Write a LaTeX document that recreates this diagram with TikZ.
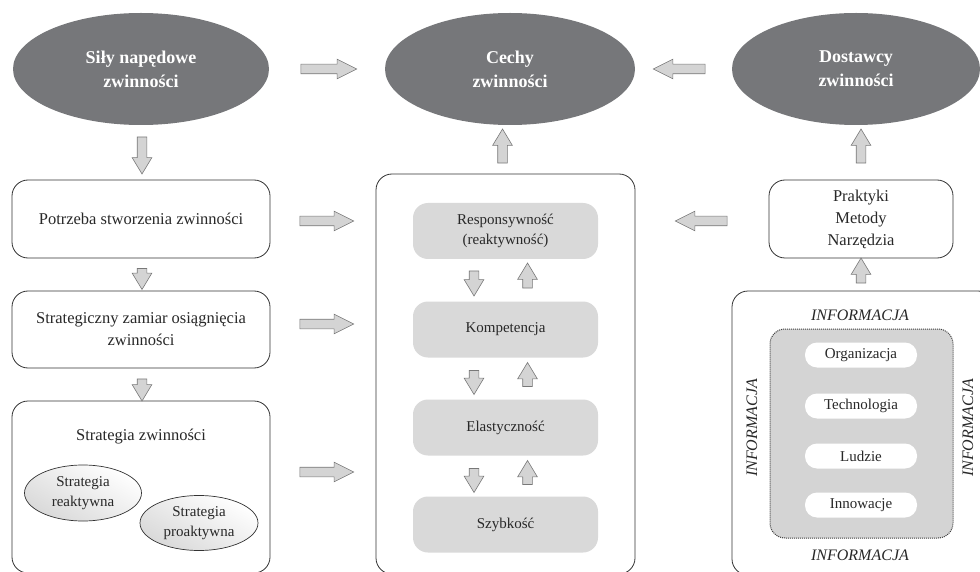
\documentclass[tikz,border=0pt]{standalone}
\usepackage{fontspec}
\setmainfont{Liberation Serif}
\usetikzlibrary{shapes.geometric,shapes.arrows}
\definecolor{ellgray}{RGB}{118,119,122}
\definecolor{arrfill}{RGB}{212,212,212}
\definecolor{arrline}{RGB}{120,120,120}
\definecolor{innerfill}{RGB}{217,217,217}
\definecolor{dotfill}{RGB}{212,212,212}
\definecolor{txt}{RGB}{40,40,40}
\begin{document}
\begin{tikzpicture}[x=1pt,y=-1pt,
  bigell/.style={ellipse, fill=ellgray, draw=none, minimum width=256pt, minimum height=112pt, inner sep=0pt,
    text=white, align=center, font=\fontsize{18}{24}\selectfont\bfseries},
  whitebox/.style={rectangle, rounded corners=16pt, draw=black!80, line width=0.8pt, fill=white, inner sep=0pt,
    text=txt, align=center, font=\fontsize{16.5}{22}\selectfont},
  graybox/.style={rectangle, rounded corners=15pt, fill=innerfill, draw=none, minimum width=185pt, minimum height=56pt,
    inner sep=0pt, text=txt, align=center, font=\fontsize{15}{20}\selectfont},
  pill/.style={rectangle, rounded corners=12pt, fill=white, draw=none, minimum width=112pt, minimum height=25pt,
    inner sep=0pt, text=txt, font=\fontsize{15}{18}\selectfont},
  stratell/.style={ellipse, draw=black!80, line width=0.7pt, top color=white, bottom color=black!15, shading angle=-30,
    minimum width=117pt, minimum height=56pt, inner sep=0pt, align=center, text=txt, font=\fontsize{15}{20}\selectfont},
  info/.style={text=txt, font=\fontsize{16}{18}\selectfont\itshape},
  barrow/.style={single arrow, draw=arrline, fill=arrfill, line width=0.6pt, minimum width=19pt,
    single arrow head extend=5pt, single arrow tip angle=53, inner xsep=0pt, inner ysep=4.5pt},
  sarrow/.style={barrow, single arrow tip angle=62},
]
\useasboundingbox (0,0) rectangle (980,572);

% top ellipses
\node[bigell] (sily) at (141,69) {Siły napędowe\\zwinności};
\node[bigell, minimum width=250pt] (cechy) at (510,69) {Cechy\\zwinności};
\node[bigell, minimum width=248pt] (dost) at (856,69) {Dostawcy\\zwinności};

% left column
\node[whitebox, minimum width=258pt, minimum height=78pt] (potrz) at (141,219) {Potrzeba stworzenia zwinności};
\node[whitebox, minimum width=258pt, minimum height=77pt] (zamiar) at (141,329.5) {Strategiczny zamiar osiągnięcia\\zwinności};
\node[whitebox, minimum width=258pt, minimum height=172pt] (strat) at (141,487) {};
\node[text=txt, font=\fontsize{16.5}{22}\selectfont] (strattxt) at (141,437) {Strategia zwinności};
\node[stratell] (reakt) at (83,493) {Strategia\\reaktywna};
\node[stratell, minimum width=118pt, minimum height=55pt] (proakt) at (199,523) {Strategia\\proaktywna};

% center column
\node[whitebox, minimum width=259pt, minimum height=400pt] (cbox) at (505.5,374) {};
\node[graybox] (resp) at (505.5,231) {Responsywność\\(reaktywność)};
\node[graybox] (komp) at (505.5,329.5) {Kompetencja};
\node[graybox] (elas) at (505.5,427.5) {Elastyczność};
\node[graybox] (szyb) at (505.5,524.5) {Szybkość};

% right column
\node[whitebox, minimum width=184pt, minimum height=78pt] (prakt) at (861,219) {Praktyki\\Metody\\Narzędzia};
\node[whitebox, minimum width=262pt, minimum height=284pt] (rbox) at (863,433) {};
\node[rectangle, rounded corners=15pt, fill=dotfill, draw=black!75, densely dotted, line width=1pt,
  minimum width=183pt, minimum height=209pt, inner sep=0pt] (dotbox) at (861.5,433.5) {};
\node[pill] (org) at (861,355) {Organizacja};
\node[pill] (tech) at (861,406) {Technologia};
\node[pill] (ludz) at (861,456) {Ludzie};
\node[pill] (inno) at (861,505) {Innowacje};
\node[info] (inft) at (860,315) {INFORMACJA};
\node[info] (infb) at (860,555) {INFORMACJA};
\node[info, rotate=90] (infl) at (752,428) {INFORMACJA};
\node[info, rotate=90] (infr) at (968,428) {INFORMACJA};

% block arrows (rotate: 0 right, 180 left, 90 up, -90 down in y-down coords)
\node[barrow, minimum height=56pt] (a1) at (324,69) {};
\node[barrow, minimum height=52pt, rotate=180] (a2) at (684,69) {};
\node[sarrow, minimum height=37pt, rotate=-90] (a3) at (142,151.5) {};
\node[sarrow, minimum height=34pt, rotate=90] (a4) at (502.5,150) {};
\node[sarrow, minimum height=34pt, rotate=90] (a5) at (861,150) {};
\node[sarrow, minimum height=21pt, rotate=-90] (a6) at (142,275) {};
\node[sarrow, minimum height=22pt, rotate=-90] (a7) at (142,386) {};
\node[barrow, minimum height=54pt] (a8) at (322,221) {};
\node[barrow, minimum height=54pt] (a9) at (322,324) {};
\node[barrow, minimum height=54pt] (a10) at (322,472) {};
\node[barrow, minimum height=52pt, rotate=180] (a11) at (706,221) {};
\node[sarrow, minimum height=25pt, rotate=90] (a12) at (861,274.5) {};
% inner arrows
\node[sarrow, minimum height=25pt, rotate=-90] (d1) at (474,279.5) {};
\node[sarrow, minimum height=25pt, rotate=90] (u1) at (527.5,279.5) {};
\node[sarrow, minimum height=24pt, rotate=-90] (d2) at (474,378.5) {};
\node[sarrow, minimum height=24pt, rotate=90] (u2) at (527.5,378.5) {};
\node[sarrow, minimum height=24pt, rotate=-90] (d3) at (474,476.5) {};
\node[sarrow, minimum height=24pt, rotate=90] (u3) at (527.5,476.5) {};
\end{tikzpicture}
\end{document}
